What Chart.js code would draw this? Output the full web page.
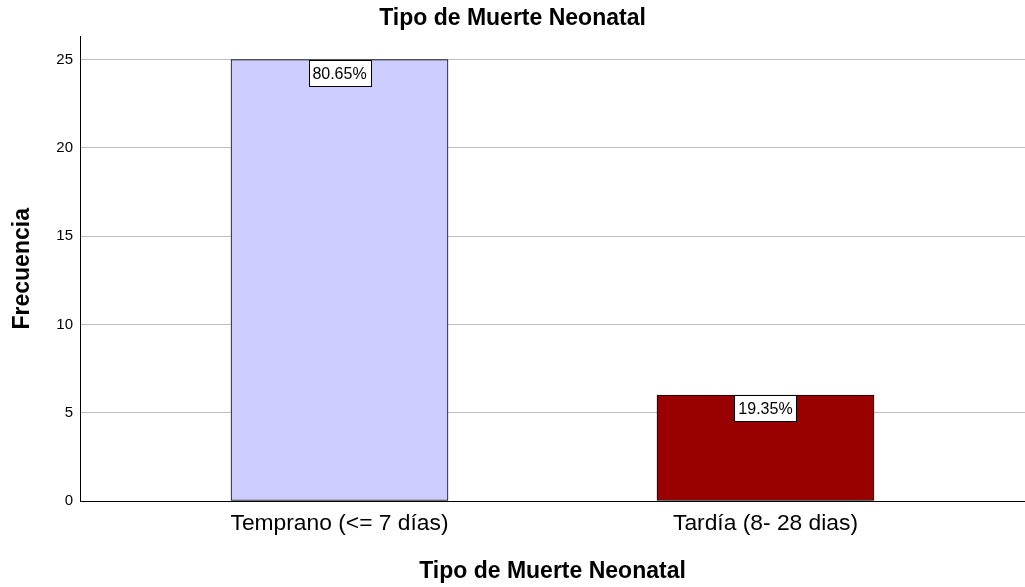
<!DOCTYPE html>
<html>
<head>
<meta charset="utf-8">
<script src="https://cdn.jsdelivr.net/npm/chart.js@4"></script>
<style>
  html, body { margin: 0; padding: 0; background: #ffffff; }
  #wrap { width: 1025px; height: 587px; }
</style>
</head>
<body>
<div id="wrap"><canvas id="c" width="1025" height="587"></canvas></div>
<script>
const categories = ['Temprano (<= 7 días)', 'Tardía (8- 28 dias)'];
const frequencies = [25, 6];
const barColors = ['#CCCCFF', '#990000'];
const yTicks = [0, 5, 10, 15, 20, 25];
const chartTitle = 'Tipo de Muerte Neonatal';
const xTitle = 'Tipo de Muerte Neonatal';
const yTitle = 'Frecuencia';

const FONT = '"Liberation Sans", Arial, sans-serif';
const total = frequencies.reduce((a, b) => a + b, 0);
const pctLabels = frequencies.map(v => (v / total * 100).toFixed(2) + '%');

const boxLabels = {
  id: 'boxLabels',
  afterDatasetsDraw(chart) {
    const ctx = chart.ctx;
    const meta = chart.getDatasetMeta(0);
    ctx.save();
    ctx.font = '16px ' + FONT;
    ctx.textAlign = 'center';
    ctx.textBaseline = 'middle';
    meta.data.forEach((el, i) => {
      const txt = pctLabels[i];
      const w = Math.round(ctx.measureText(txt).width) + 8;
      const h = 26;
      const x = Math.round(el.x - w / 2) + 0.5;
      const y = Math.round(el.y) + 0.5;
      ctx.fillStyle = '#ffffff';
      ctx.fillRect(x, y, w, h);
      ctx.strokeStyle = '#000000';
      ctx.lineWidth = 1;
      ctx.strokeRect(x, y, w, h);
      ctx.fillStyle = '#000000';
      ctx.fillText(txt, el.x, y + h / 2 + 1);
    });
    ctx.restore();
  }
};

new Chart(document.getElementById('c'), {
  type: 'bar',
  data: {
    datasets: [{
      data: frequencies.map((v, i) => ({ x: i, y: v })),
      backgroundColor: barColors,
      borderColor: '#000000',
      borderWidth: 1,
      borderSkipped: false,
      barThickness: 217
    }]
  },
  options: {
    responsive: false,
    animation: false,
    layout: { padding: 0 },
    plugins: {
      legend: { display: false },
      tooltip: { enabled: false },
      title: {
        display: true,
        text: chartTitle,
        color: '#000000',
        font: { family: FONT, size: 23, weight: 'bold' },
        padding: { top: 5, bottom: 4 }
      }
    },
    scales: {
      x: {
        type: 'linear',
        offset: false,
        min: -0.6092,
        max: 1.6092,
        afterBuildTicks(scale) {
          scale.ticks = categories.map((c, i) => ({ value: i }));
        },
        afterFit(scale) { scale.height = 86; },
        grid: { display: false, drawTicks: false, offset: false },
        border: { display: true, color: '#000000', width: 1 },
        ticks: {
          color: '#000000',
          font: { family: FONT, size: 22.8 },
          padding: 9,
          maxRotation: 0,
          autoSkip: false,
          callback: (v) => categories[v]
        },
        title: {
          display: true,
          text: xTitle,
          color: '#000000',
          font: { family: FONT, size: 23, weight: 'bold' },
          padding: { top: 0, bottom: 2 }
        }
      },
      y: {
        min: 0,
        max: 26.3,
        afterBuildTicks(scale) {
          scale.ticks = yTicks.map(v => ({ value: v }));
        },
        afterFit(scale) { scale.width = 80; },
        grid: { color: '#bdbdbd', lineWidth: 1, drawTicks: false },
        border: { display: true, color: '#000000', width: 1 },
        ticks: {
          color: '#000000',
          font: { family: FONT, size: 15 },
          padding: 7
        },
        title: {
          display: true,
          text: yTitle,
          color: '#000000',
          font: { family: FONT, size: 23, weight: 'bold' },
          padding: { top: 9, bottom: 0 }
        }
      }
    }
  },
  plugins: [boxLabels]
});
</script>
</body>
</html>
